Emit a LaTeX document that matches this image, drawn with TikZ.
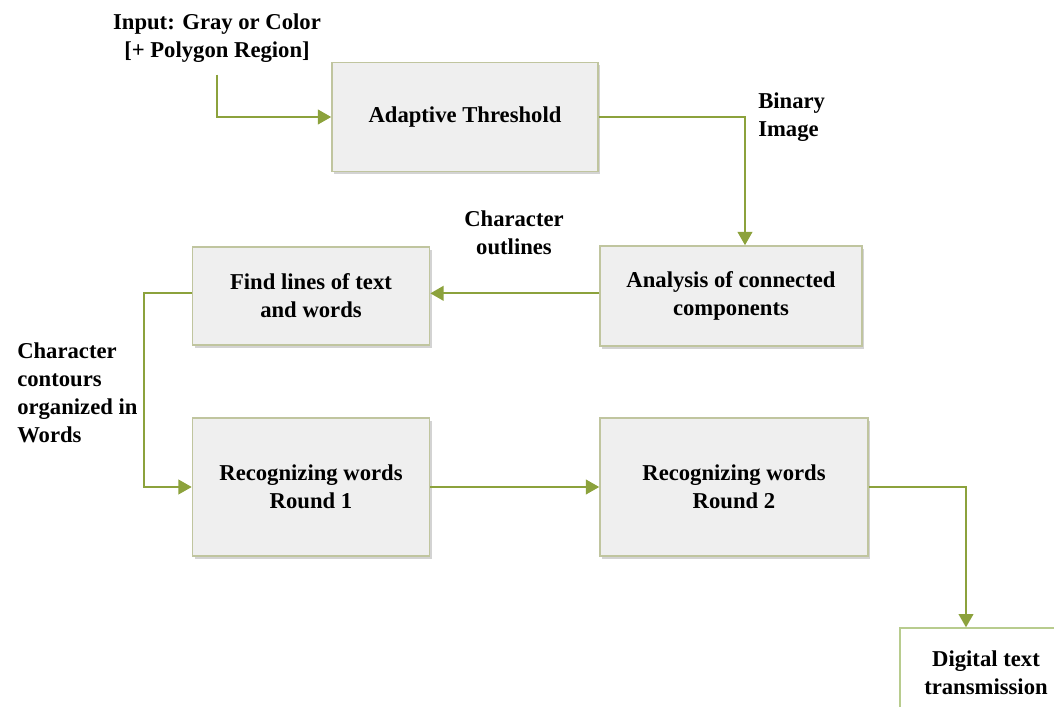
\documentclass[tikz,border=0pt]{standalone}
\usepackage{fontspec}
\setmainfont{Liberation Serif}
\usepackage{xcolor}
\usetikzlibrary{shapes,arrows.meta,shadows}

\definecolor{flowgreen}{HTML}{8CA23C}
\definecolor{boxedge}{HTML}{C0C59F}
\definecolor{boxfill}{HTML}{EFEFEF}
\definecolor{outedge}{HTML}{B8CC8E}

\begin{document}
\begin{tikzpicture}[x=0.75pt, y=-0.75pt, >={Triangle[length=10pt,width=11pt]},
    font=\fontsize{17}{21}\selectfont\bfseries]
    \tikzstyle{block} = [rectangle, draw=boxedge, fill=boxfill, line width=1.2pt,
        align=center, drop shadow={opacity=0.35, shadow xshift=1.5pt, shadow yshift=-2pt}]
    \tikzstyle{line} = [draw=flowgreen, line width=1.5pt, ->]
    \tikzstyle{note} = [align=center, inner sep=0pt]

    \useasboundingbox (0,0) rectangle (1054,707);

    \node [note] (input) at (217,38) {Input: Gray or Color\\{}[+ Polygon Region]};
    \node [block, minimum width=199.5pt, minimum height=81.75pt] (adapt) at (465,117) {Adaptive Threshold};
    \node [block, minimum width=196.5pt, minimum height=75pt] (analysis) at (731,296) {Analysis of connected\\components};
    \node [block, minimum width=177.75pt, minimum height=73.5pt] (findlines) at (311,296) {Find lines of text\\and words};
    \node [block, minimum width=177.75pt, minimum height=103.5pt] (round1) at (311,487) {Recognizing words\\Round 1};
    \node [block, minimum width=201pt, minimum height=103.5pt] (round2) at (734,487) {Recognizing words\\Round 2};
    \node [rectangle, draw=outedge, line width=1pt, align=center,
        minimum width=129pt, minimum height=67.5pt] (digital) at (986,673) {Digital text\\transmission};

    % labels on the flow
    \node [note, anchor=west, align=left] (binary) at (758,117) {Binary\\Image};
    \node [note] (outlines) at (514,233) {Character\\outlines};
    \node [note, anchor=west, align=left] (contours) at (17,393) {Character\\contours\\organized in\\Words};

    \path [line, shorten <=9pt] (input.south) |- (adapt.west);
    \path [line] (adapt.east) -| ([xshift=10.5pt]analysis.north);
    \path [line] ([yshift=2pt]analysis.west) -- ([yshift=2pt]findlines.east);
    \path [line] ([yshift=2pt]findlines.west) -- ++(-48,0) |- (round1.west);
    \path [line] (round1.east) -- (round2.west);
    \path [line] (round2.east) -| ([xshift=-15pt]digital.north);
\end{tikzpicture}
\end{document}
